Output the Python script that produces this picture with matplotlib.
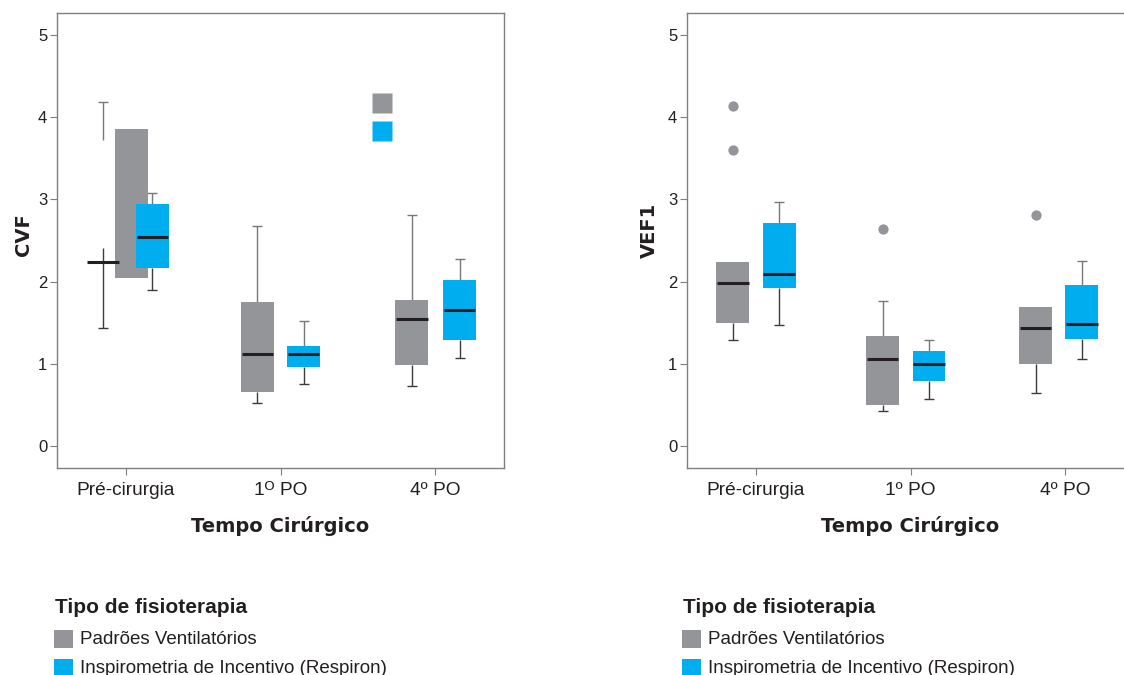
import matplotlib
matplotlib.use("Agg")
import matplotlib.pyplot as plt
from matplotlib.patches import Rectangle
import numpy as np

plt.rcParams['font.family'] = ['Liberation Sans', 'DejaVu Sans']

# ---------------- data ----------------
categories = ["Pré-cirurgia", "1º PO", "4º PO"]
tick_labels_cvf = ["Pré-cirurgia", "1ᴼ PO", "4º PO"]
tick_labels_vef = ["Pré-cirurgia", "1º PO", "4º PO"]
series_names = ["Padrões Ventilatórios", "Inspirometria de Incentivo (Respiron)"]

# CVF - Padrões Ventilatórios
cvf_pv_lo = [1.43, 0.52, 0.73]
cvf_pv_q1 = [2.04, 0.65, 0.99]
cvf_pv_med = [2.24, 1.12, 1.55]
cvf_pv_q3 = [3.86, 1.75, 1.78]
cvf_pv_hi = [4.19, 2.68, 2.81]
cvf_pv_wlo_end = [2.41, 0.65, 0.99]    # where the lower whisker stops
cvf_pv_whi_start = [3.72, 1.75, 1.78]  # where the upper whisker starts
cvf_pv_out = [[], [], [4.18]]
# CVF - Inspirometria
cvf_ii_lo = [1.90, 0.75, 1.075]
cvf_ii_q1 = [2.16, 0.965, 1.29]
cvf_ii_med = [2.54, 1.12, 1.655]
cvf_ii_q3 = [2.94, 1.215, 2.02]
cvf_ii_hi = [3.08, 1.52, 2.28]
cvf_ii_out = [[], [], [3.83]]

# VEF1 - Padrões Ventilatórios
vef_pv_lo = [1.29, 0.43, 0.645]
vef_pv_q1 = [1.49, 0.50, 1.00]
vef_pv_med = [1.98, 1.055, 1.43]
vef_pv_q3 = [2.24, 1.34, 1.69]
vef_pv_hi = [2.24, 1.764, 1.69]
vef_pv_out = [[4.14, 3.60], [2.64], [2.81]]
# VEF1 - Inspirometria
vef_ii_lo = [1.47, 0.575, 1.055]
vef_ii_q1 = [1.926, 0.795, 1.305]
vef_ii_med = [2.09, 0.998, 1.484]
vef_ii_q3 = [2.71, 1.156, 1.955]
vef_ii_hi = [2.97, 1.29, 2.254]
vef_ii_out = [[], [], []]

# ---------------- style ----------------
GRAY = '#939598'
BLUE = '#00aeef'
MED = '#231f20'
WHI_UP = '#77787b'
WHI_LO = '#3c3c3e'
SPINE = '#7f7f7f'
TXT = '#231f20'
BOX_W = 0.213
CAP = 0.032
OFF = 0.15

W, H = 1124, 675
fig = plt.figure(figsize=(W / 100, H / 100), dpi=100)


def ax_rect(x0, y0, x1, y1):
    return [x0 / W, 1 - y1 / H, (x1 - x0) / W, (y1 - y0) / H]


ax1 = fig.add_axes(ax_rect(57, 13, 504, 468))
ax2 = fig.add_axes(ax_rect(687, 13, 1134, 468))


def draw_series(ax, x, lo, q1, med, q3, hi, color, box_dx=None,
                wlo_end=None, whi_start=None):
    x = np.asarray(x, float)
    lo, q1, med, q3, hi = (np.asarray(v, float) for v in (lo, q1, med, q3, hi))
    box_dx = np.zeros_like(x) if box_dx is None else np.asarray(box_dx, float)
    wlo_end = q1 if wlo_end is None else np.asarray(wlo_end, float)
    whi_start = q3 if whi_start is None else np.asarray(whi_start, float)
    ml = lo < q1
    mh = hi > q3
    ax.vlines(x[ml], lo[ml], wlo_end[ml], color=WHI_LO, lw=1.0, zorder=2)
    ax.hlines(lo[ml], x[ml] - CAP, x[ml] + CAP, color=WHI_LO, lw=1.0, zorder=2)
    ax.vlines(x[mh], whi_start[mh], hi[mh], color=WHI_UP, lw=1.0, zorder=2)
    ax.hlines(hi[mh], x[mh] - CAP, x[mh] + CAP, color=WHI_UP, lw=1.0, zorder=2)
    ax.bar(x + box_dx, q3 - q1, bottom=q1, width=BOX_W, color=color,
           linewidth=0, zorder=3)
    ax.hlines(med, x - BOX_W * 0.48, x + BOX_W * 0.48, color=MED, lw=2.2,
              zorder=4)


def style_axes(ax, ticklabels, ylabel, ylab_y, ylab_x):
    ax.set_xlim(-0.447, 2.447)
    ax.set_ylim(-0.27, 5.27)
    ax.set_xticks(range(len(categories)))
    ax.set_xticklabels(ticklabels)
    ax.set_yticks(range(0, 6))
    for s in ax.spines.values():
        s.set_color(SPINE)
        s.set_linewidth(1.0)
    ax.tick_params(axis='y', direction='out', length=5, width=0.8,
                   color=SPINE, labelsize=12, labelcolor=TXT, pad=2)
    ax.tick_params(axis='x', direction='out', length=5, width=0.8,
                   color=SPINE, labelsize=13.8, labelcolor=TXT, pad=5)
    ax.set_ylabel(ylabel, family=['DejaVu Sans'], fontweight='bold',
                  fontsize=14, color=TXT)
    ax.yaxis.set_label_coords(ylab_x, ylab_y)
    ax.set_xlabel("Tempo Cirúrgico", family=['DejaVu Sans'],
                  fontweight='bold', fontsize=14, color=TXT)
    ax.xaxis.set_label_coords(0.5, -0.105)


xg = np.arange(len(categories), dtype=float)

# ---- CVF panel ----
draw_series(ax1, xg - OFF, cvf_pv_lo, cvf_pv_q1, cvf_pv_med, cvf_pv_q3,
            cvf_pv_hi, GRAY, box_dx=[0.185, 0, 0],
            wlo_end=cvf_pv_wlo_end, whi_start=cvf_pv_whi_start)
draw_series(ax1, xg + OFF + np.array([0.02, 0, 0.01]), cvf_ii_lo, cvf_ii_q1,
            cvf_ii_med, cvf_ii_q3, cvf_ii_hi, BLUE)
for i, vals in enumerate(cvf_pv_out):
    if vals:
        ax1.plot([xg[i] - 0.34] * len(vals), vals, ls='none', marker='s',
                 ms=13.7, mfc=GRAY, mec='none', zorder=3)
for i, vals in enumerate(cvf_ii_out):
    if vals:
        ax1.plot([xg[i] - 0.34] * len(vals), vals, ls='none', marker='s',
                 ms=13.7, mfc=BLUE, mec='none', zorder=3)
style_axes(ax1, tick_labels_cvf, "CVF", 0.512, -0.053)

# ---- VEF1 panel ----
nudge = np.array([0.0, -0.03, -0.04])
xp = xg - OFF + nudge
xi = xg + OFF + nudge
draw_series(ax2, xp, vef_pv_lo, vef_pv_q1, vef_pv_med, vef_pv_q3,
            vef_pv_hi, GRAY)
draw_series(ax2, xi, vef_ii_lo, vef_ii_q1, vef_ii_med, vef_ii_q3,
            vef_ii_hi, BLUE)
for i, vals in enumerate(vef_pv_out):
    if vals:
        ax2.plot([xp[i]] * len(vals), vals, ls='none', marker='o', ms=7.4,
                 mfc=GRAY, mec='none', zorder=3)
for i, vals in enumerate(vef_ii_out):
    if vals:
        ax2.plot([xi[i]] * len(vals), vals, ls='none', marker='o', ms=7.4,
                 mfc=BLUE, mec='none', zorder=3)
style_axes(ax2, tick_labels_vef, "VEF1", 0.523, -0.063)

# ---- legends (one under each panel) ----
for lx in (55, 683):
    fig.text(lx / W, 1 - 613 / H, "Tipo de fisioterapia", fontsize=15,
             fontweight='bold', color=TXT, va='baseline', ha='left')
    for name, col, ytop, base in zip(series_names, (GRAY, BLUE),
                                     (630, 659), (644, 673)):
        fig.add_artist(Rectangle(((lx - 1) / W, 1 - (ytop + 18) / H),
                                 19 / W, 18 / H, transform=fig.transFigure,
                                 facecolor=col, edgecolor='none'))
        fig.text((lx + 25) / W, 1 - base / H, name, fontsize=13.5,
                 color=TXT, va='baseline', ha='left')

fig.savefig("out.png", dpi=100)
